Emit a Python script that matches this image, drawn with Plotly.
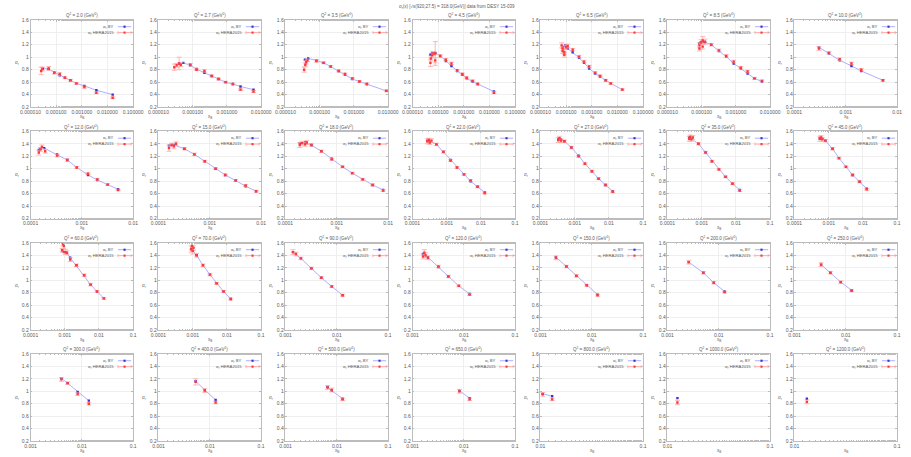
import plotly.graph_objects as go

# ---------------------------------------------------------------- data
Q2_VALUES = [2.0, 2.7, 3.5, 4.5, 6.5, 8.5, 10.0,
             12.0, 15.0, 18.0, 22.0, 27.0, 35.0, 45.0,
             60.0, 70.0, 90.0, 120.0, 150.0, 200.0, 250.0,
             300.0, 400.0, 500.0, 650.0, 800.0, 1000.0, 1200.0]

# log10 of the x-axis limits for every panel
X_LO = [-5, -5, -5, -5, -5, -5, -4,
        -4, -4, -4, -4, -4, -4, -4,
        -4, -4, -3, -3, -3, -3, -3,
        -3, -3, -3, -3, -2, -2, -2]
X_HI = [-1, -2, -2, -1, -1, -2, -2,
        -2, -2, -2, -1, -1, -1, -1,
        -1, -1, -1, -1, -1, -1, -1,
        -1, -1, -1, -1, -1, -1, -1]

Y_TICKS = [0.2, 0.4, 0.6, 0.8, 1.0, 1.2, 1.4, 1.6]
Y_TICK_TEXT = ["0.2", "0.4", "0.6", "0.8", "1", "1.2", "1.4", "1.6"]

# Q2 = 2.0
by_x_2p0 = [3.0e-5, 5.1e-5, 8.4e-5, 1.38e-4, 2.2e-4, 3.6e-4, 6.1e-4, 1.26e-3, 3.7e-3, 1.6e-2]
by_s_2p0 = [0.82, 0.81, 0.76, 0.71, 0.67, 0.63, 0.58, 0.54, 0.47, 0.40]
h_x_2p0 = [2.6e-5, 2.9e-5, 5.1e-5, 8.4e-5, 1.38e-4, 2.2e-4, 3.6e-4, 6.1e-4, 1.26e-3, 3.7e-3, 1.6e-2]
h_s_2p0 = [0.78, 0.81, 0.82, 0.75, 0.73, 0.67, 0.63, 0.58, 0.52, 0.43, 0.35]
h_e_2p0 = [0.06, 0.03, 0.03, 0.02, 0.02, 0.015, 0.015, 0.015, 0.015, 0.015, 0.015]

# Q2 = 2.7
by_x_2p7 = [4.0e-5, 5.3e-5, 8.5e-5, 1.3e-4, 2.2e-4, 3.6e-4, 5.7e-4, 9.2e-4, 1.5e-3, 2.5e-3, 6.0e-3]
by_s_2p7 = [0.90, 0.91, 0.87, 0.81, 0.75, 0.70, 0.65, 0.60, 0.57, 0.53, 0.48]
h_x_2p7 = [2.9e-5, 3.4e-5, 4.0e-5, 4.5e-5, 8.5e-5, 1.3e-4, 2.2e-4, 3.6e-4, 5.7e-4, 9.2e-4, 1.5e-3, 2.5e-3, 6.0e-3]
h_s_2p7 = [0.84, 0.87, 0.90, 0.88, 0.88, 0.80, 0.78, 0.70, 0.65, 0.60, 0.57, 0.48, 0.45]
h_e_2p7 = [0.05, 0.03, 0.10, 0.03, 0.02, 0.015, 0.02, 0.015, 0.015, 0.015, 0.015, 0.015, 0.015]

# Q2 = 3.5
by_x_3p5 = [3.7e-5, 4.6e-5, 8.0e-5, 1.3e-4, 2.1e-4, 3.6e-4, 5.5e-4, 9.0e-4, 1.45e-3, 2.4e-3, 8.9e-3]
by_s_3p5 = [0.96, 0.98, 0.95, 0.91, 0.85, 0.78, 0.72, 0.65, 0.61, 0.57, 0.46]
h_x_3p5 = [3.5e-5, 3.8e-5, 4.0e-5, 4.4e-5, 8.0e-5, 1.3e-4, 2.1e-4, 3.6e-4, 5.5e-4, 9.0e-4, 1.45e-3, 2.4e-3, 8.9e-3]
h_s_3p5 = [0.80, 0.88, 0.92, 0.95, 0.94, 0.91, 0.85, 0.78, 0.73, 0.66, 0.61, 0.57, 0.46]
h_e_3p5 = [0.04, 0.03, 0.03, 0.02, 0.02, 0.015, 0.015, 0.015, 0.015, 0.015, 0.015, 0.015, 0.015]

# Q2 = 4.5
by_x_4p5 = [5.0e-5, 5.8e-5, 7.7e-5, 1.2e-4, 2.0e-4, 3.3e-4, 5.5e-4, 8.8e-4, 1.3e-3, 2.2e-3, 3.5e-3, 1.5e-2]
by_s_4p5 = [1.04, 1.07, 1.07, 1.02, 0.94, 0.86, 0.78, 0.72, 0.66, 0.61, 0.57, 0.45]
h_x_4p5 = [5.0e-5, 5.2e-5, 5.8e-5, 6.7e-5, 7.7e-5, 7.7e-5, 1.2e-4, 2.0e-4, 3.3e-4, 5.5e-4, 8.8e-4, 1.3e-3, 2.2e-3, 3.5e-3, 1.5e-2]
h_s_4p5 = [0.91, 0.98, 1.03, 1.06, 1.06, 0.95, 1.02, 0.96, 0.90, 0.79, 0.73, 0.67, 0.62, 0.57, 0.43]
h_e_4p5 = [0.06, 0.04, 0.04, 0.03, 0.19, 0.04, 0.02, 0.02, 0.02, 0.015, 0.015, 0.015, 0.015, 0.015, 0.015]

# Q2 = 6.5
by_x_6p5 = [7.3e-5, 9.2e-5, 1.15e-4, 1.8e-4, 3.2e-4, 5.0e-4, 7.9e-4, 1.35e-3, 2.1e-3, 3.5e-3, 5.5e-3, 1.55e-2]
by_s_6p5 = [1.16, 1.19, 1.14, 1.08, 0.99, 0.91, 0.82, 0.74, 0.69, 0.63, 0.58, 0.48]
h_x_6p5 = [6.7e-5, 7.3e-5, 7.3e-5, 8.5e-5, 8.5e-5, 9.8e-5, 1.15e-4, 1.8e-4, 3.2e-4, 5.0e-4, 7.9e-4, 1.35e-3, 2.1e-3, 3.5e-3, 5.5e-3, 1.55e-2]
h_s_6p5 = [1.19, 1.14, 1.10, 1.08, 1.04, 1.16, 1.18, 1.12, 1.01, 0.93, 0.85, 0.75, 0.70, 0.63, 0.58, 0.48]
h_e_6p5 = [0.04, 0.04, 0.04, 0.04, 0.04, 0.03, 0.03, 0.02, 0.02, 0.02, 0.02, 0.015, 0.015, 0.015, 0.015, 0.015]

# Q2 = 8.5
by_x_8p5 = [8.6e-5, 9.5e-5, 1.07e-4, 1.25e-4, 1.9e-4, 3.2e-4, 5.2e-4, 8.6e-4, 1.4e-3, 2.2e-3, 3.5e-3, 5.8e-3]
by_s_8p5 = [1.22, 1.23, 1.25, 1.24, 1.20, 1.10, 1.01, 0.90, 0.82, 0.74, 0.66, 0.61]
h_x_8p5 = [8.6e-5, 8.6e-5, 9.5e-5, 1.07e-4, 1.07e-4, 1.25e-4, 1.9e-4, 3.2e-4, 5.2e-4, 8.6e-4, 1.4e-3, 2.2e-3, 3.5e-3, 5.8e-3]
h_s_8p5 = [1.14, 1.19, 1.24, 1.27, 1.17, 1.25, 1.20, 1.11, 1.02, 0.93, 0.83, 0.77, 0.66, 0.62]
h_e_8p5 = [0.04, 0.04, 0.04, 0.06, 0.04, 0.04, 0.02, 0.02, 0.02, 0.02, 0.02, 0.02, 0.015, 0.015]

# Q2 = 10
by_x_10 = [3.0e-4, 4.7e-4, 7.6e-4, 1.29e-3, 2.0e-3, 5.3e-3]
by_s_10 = [1.16, 1.06, 0.95, 0.86, 0.78, 0.63]
h_x_10 = [3.0e-4, 4.7e-4, 7.6e-4, 1.29e-3, 2.0e-3, 5.3e-3]
h_s_10 = [1.14, 1.07, 0.97, 0.90, 0.80, 0.63]
h_e_10 = [0.03, 0.02, 0.02, 0.02, 0.02, 0.015]

# Q2 = 12
by_x_12 = [1.45e-4, 1.56e-4, 1.85e-4, 3.3e-4, 5.2e-4, 8.0e-4, 1.32e-3, 2.0e-3, 3.2e-3, 5.1e-3]
by_s_12 = [1.30, 1.32, 1.33, 1.23, 1.14, 1.02, 0.90, 0.82, 0.745, 0.67]
h_x_12 = [1.45e-4, 1.56e-4, 1.67e-4, 1.93e-4, 3.3e-4, 5.2e-4, 8.0e-4, 1.32e-3, 2.0e-3, 3.2e-3, 5.1e-3]
h_s_12 = [1.26, 1.31, 1.35, 1.28, 1.21, 1.14, 1.02, 0.92, 0.83, 0.745, 0.66]
h_e_12 = [0.04, 0.03, 0.03, 0.03, 0.02, 0.02, 0.015, 0.015, 0.015, 0.015, 0.01]

# Q2 = 15
by_x_15 = [1.6e-4, 2.0e-4, 3.2e-4, 5.0e-4, 8.0e-4, 1.3e-3, 2.0e-3, 3.2e-3, 5.0e-3, 8.0e-3]
by_s_15 = [1.37, 1.38, 1.32, 1.23, 1.12, 1.00, 0.90, 0.81, 0.72, 0.64]
h_x_15 = [1.6e-4, 1.8e-4, 2.0e-4, 2.2e-4, 3.2e-4, 5.0e-4, 8.0e-4, 1.3e-3, 2.0e-3, 3.2e-3, 5.0e-3, 8.0e-3]
h_s_15 = [1.33, 1.38, 1.36, 1.40, 1.32, 1.23, 1.12, 1.00, 0.90, 0.81, 0.73, 0.64]
h_e_15 = [0.05, 0.03, 0.04, 0.03, 0.02, 0.02, 0.015, 0.015, 0.015, 0.015, 0.015, 0.015]

# Q2 = 18
by_x_18 = [1.9e-4, 2.4e-4, 3.2e-4, 5.0e-4, 8.0e-4, 1.3e-3, 2.0e-3, 3.2e-3, 5.0e-3, 8.0e-3]
by_s_18 = [1.41, 1.42, 1.38, 1.28, 1.16, 1.03, 0.93, 0.83, 0.74, 0.66]
h_x_18 = [1.9e-4, 2.1e-4, 2.4e-4, 2.6e-4, 3.2e-4, 5.0e-4, 8.0e-4, 1.3e-3, 2.0e-3, 3.2e-3, 5.0e-3, 8.0e-3]
h_s_18 = [1.38, 1.41, 1.39, 1.42, 1.38, 1.28, 1.15, 1.03, 0.93, 0.83, 0.74, 0.65]
h_e_18 = [0.04, 0.03, 0.03, 0.03, 0.02, 0.02, 0.015, 0.015, 0.015, 0.015, 0.015, 0.015]

# Q2 = 22
by_x_22 = [2.7e-4, 3.2e-4, 5.0e-4, 8.0e-4, 1.3e-3, 2.0e-3, 3.2e-3, 5.0e-3, 8.0e-3, 1.3e-2]
by_s_22 = [1.45, 1.44, 1.39, 1.27, 1.14, 1.02, 0.91, 0.80, 0.71, 0.62]
h_x_22 = [2.7e-4, 3.0e-4, 3.2e-4, 3.6e-4, 5.0e-4, 8.0e-4, 1.3e-3, 2.0e-3, 3.2e-3, 5.0e-3, 8.0e-3, 1.3e-2]
h_s_22 = [1.44, 1.46, 1.42, 1.45, 1.39, 1.27, 1.13, 1.02, 0.91, 0.81, 0.71, 0.61]
h_e_22 = [0.04, 0.03, 0.03, 0.03, 0.02, 0.02, 0.015, 0.015, 0.015, 0.015, 0.015, 0.015]

# Q2 = 27
by_x_27 = [3.3e-4, 4.0e-4, 5.0e-4, 8.0e-4, 1.3e-3, 2.0e-3, 3.2e-3, 5.0e-3, 8.0e-3, 1.3e-2]
by_s_27 = [1.47, 1.47, 1.44, 1.34, 1.21, 1.08, 0.96, 0.84, 0.74, 0.64]
h_x_27 = [3.3e-4, 3.6e-4, 4.0e-4, 5.0e-4, 8.0e-4, 1.3e-3, 2.0e-3, 3.2e-3, 5.0e-3, 8.0e-3, 1.3e-2]
h_s_27 = [1.46, 1.49, 1.45, 1.44, 1.34, 1.20, 1.08, 0.96, 0.84, 0.74, 0.63]
h_e_27 = [0.04, 0.03, 0.03, 0.02, 0.02, 0.015, 0.015, 0.015, 0.015, 0.015, 0.015]

# Q2 = 35
by_x_35 = [4.3e-4, 5.0e-4, 8.0e-4, 1.3e-3, 2.0e-3, 3.2e-3, 5.0e-3, 8.0e-3, 1.3e-2]
by_s_35 = [1.50, 1.48, 1.40, 1.26, 1.12, 0.99, 0.87, 0.76, 0.66]
h_x_35 = [4.3e-4, 4.6e-4, 5.0e-4, 5.5e-4, 8.0e-4, 1.3e-3, 2.0e-3, 3.2e-3, 5.0e-3, 8.0e-3, 1.3e-2]
h_s_35 = [1.48, 1.51, 1.47, 1.50, 1.40, 1.26, 1.12, 0.99, 0.87, 0.76, 0.65]
h_e_35 = [0.04, 0.03, 0.03, 0.03, 0.02, 0.02, 0.015, 0.015, 0.015, 0.015, 0.015]

# Q2 = 45
by_x_45 = [5.5e-4, 6.5e-4, 8.0e-4, 1.3e-3, 2.0e-3, 3.2e-3, 5.0e-3, 8.0e-3, 1.3e-2]
by_s_45 = [1.49, 1.48, 1.45, 1.32, 1.17, 1.03, 0.90, 0.79, 0.68]
h_x_45 = [5.5e-4, 6.0e-4, 6.5e-4, 8.0e-4, 1.3e-3, 2.0e-3, 3.2e-3, 5.0e-3, 8.0e-3, 1.3e-2]
h_s_45 = [1.48, 1.50, 1.47, 1.45, 1.32, 1.17, 1.03, 0.90, 0.79, 0.67]
h_e_45 = [0.04, 0.03, 0.03, 0.02, 0.02, 0.015, 0.015, 0.015, 0.015, 0.015]

# Q2 = 60
by_x_60 = [8.4e-4, 9.4e-4, 1.16e-3, 1.45e-3, 2.2e-3, 3.7e-3, 5.7e-3, 8.8e-3, 1.4e-2]
by_s_60 = [1.48, 1.45, 1.43, 1.36, 1.24, 1.08, 0.93, 0.82, 0.71]
h_x_60 = [8.4e-4, 8.9e-4, 9.4e-4, 1.05e-3, 1.16e-3, 1.45e-3, 2.2e-3, 3.7e-3, 5.7e-3, 8.8e-3, 1.4e-2]
h_s_60 = [1.48, 1.58, 1.55, 1.45, 1.44, 1.33, 1.24, 1.08, 0.93, 0.82, 0.71]
h_e_60 = [0.03, 0.03, 0.04, 0.04, 0.03, 0.03, 0.02, 0.02, 0.02, 0.015, 0.015]

# Q2 = 70
by_x_70 = [9.0e-4, 1.0e-3, 1.3e-3, 2.0e-3, 3.2e-3, 5.0e-3, 8.0e-3, 1.3e-2]
by_s_70 = [1.50, 1.48, 1.40, 1.24, 1.09, 0.95, 0.82, 0.70]
h_x_70 = [9.0e-4, 9.5e-4, 1.0e-3, 1.05e-3, 1.3e-3, 2.0e-3, 3.2e-3, 5.0e-3, 8.0e-3, 1.3e-2]
h_s_70 = [1.50, 1.55, 1.47, 1.52, 1.40, 1.24, 1.09, 0.95, 0.82, 0.70]
h_e_70 = [0.05, 0.07, 0.05, 0.04, 0.03, 0.02, 0.02, 0.015, 0.015, 0.015]

# Q2 = 90
by_x_90 = [1.4e-3, 2.0e-3, 3.2e-3, 5.0e-3, 8.0e-3, 1.3e-2]
by_s_90 = [1.45, 1.35, 1.19, 1.04, 0.90, 0.76]
h_x_90 = [1.4e-3, 1.6e-3, 2.0e-3, 3.2e-3, 5.0e-3, 8.0e-3, 1.3e-2]
h_s_90 = [1.45, 1.42, 1.35, 1.19, 1.04, 0.90, 0.76]
h_e_90 = [0.04, 0.03, 0.02, 0.02, 0.015, 0.015, 0.015]

# Q2 = 120
by_x_120 = [1.6e-3, 2.0e-3, 3.2e-3, 5.0e-3, 8.0e-3, 1.3e-2]
by_s_120 = [1.42, 1.37, 1.21, 1.06, 0.91, 0.78]
h_x_120 = [1.6e-3, 1.7e-3, 1.8e-3, 2.0e-3, 3.2e-3, 5.0e-3, 8.0e-3, 1.3e-2]
h_s_120 = [1.38, 1.44, 1.40, 1.36, 1.22, 1.06, 0.91, 0.77]
h_e_120 = [0.04, 0.05, 0.04, 0.03, 0.02, 0.02, 0.015, 0.015]

# Q2 = 150
by_x_150 = [2.0e-3, 3.2e-3, 5.0e-3, 8.0e-3, 1.3e-2]
by_s_150 = [1.37, 1.22, 1.07, 0.92, 0.77]
h_x_150 = [2.0e-3, 3.2e-3, 5.0e-3, 8.0e-3, 1.3e-2]
h_s_150 = [1.36, 1.22, 1.07, 0.92, 0.76]
h_e_150 = [0.03, 0.02, 0.02, 0.015, 0.015]

# Q2 = 200
by_x_200 = [2.6e-3, 5.0e-3, 8.0e-3, 1.3e-2]
by_s_200 = [1.29, 1.12, 0.96, 0.82]
h_x_200 = [2.6e-3, 5.0e-3, 8.0e-3, 1.3e-2]
h_s_200 = [1.29, 1.12, 0.96, 0.81]
h_e_200 = [0.03, 0.02, 0.02, 0.015]

# Q2 = 250
by_x_250 = [3.3e-3, 5.0e-3, 8.0e-3, 1.3e-2]
by_s_250 = [1.25, 1.12, 0.97, 0.84]
h_x_250 = [3.3e-3, 5.0e-3, 8.0e-3, 1.3e-2]
h_s_250 = [1.25, 1.12, 0.97, 0.83]
h_e_250 = [0.03, 0.02, 0.02, 0.015]

# Q2 = 300
by_x_300 = [4.0e-3, 5.3e-3, 8.3e-3, 1.37e-2]
by_s_300 = [1.21, 1.13, 0.99, 0.85]
h_x_300 = [4.0e-3, 5.3e-3, 8.3e-3, 1.37e-2]
h_s_300 = [1.19, 1.13, 0.955, 0.80]
h_e_300 = [0.03, 0.02, 0.02, 0.02]

# Q2 = 400
by_x_400 = [5.3e-3, 8.0e-3, 1.3e-2]
by_s_400 = [1.16, 1.02, 0.86]
h_x_400 = [5.3e-3, 8.0e-3, 1.3e-2]
h_s_400 = [1.15, 1.01, 0.82]
h_e_400 = [0.05, 0.03, 0.02]

# Q2 = 500
by_x_500 = [6.6e-3, 8.0e-3, 1.3e-2]
by_s_500 = [1.07, 1.01, 0.88]
h_x_500 = [6.6e-3, 8.0e-3, 1.3e-2]
h_s_500 = [1.06, 1.02, 0.87]
h_e_500 = [0.03, 0.03, 0.02]

# Q2 = 650
by_x_650 = [8.2e-3, 1.3e-2]
by_s_650 = [1.01, 0.89]
h_x_650 = [8.2e-3, 1.3e-2]
h_s_650 = [1.00, 0.87]
h_e_650 = [0.03, 0.02]

# Q2 = 800
by_x_800 = [1.05e-2, 1.3e-2]
by_s_800 = [0.96, 0.92]
h_x_800 = [1.05e-2, 1.3e-2]
h_s_800 = [0.95, 0.87]
h_e_800 = [0.03, 0.02]

# Q2 = 1000
by_x_1000 = [1.25e-2]
by_s_1000 = [0.89]
h_x_1000 = [1.25e-2]
h_s_1000 = [0.82]
h_e_1000 = [0.035]

# Q2 = 1200
by_x_1200 = [1.32e-2]
by_s_1200 = [0.88]
h_x_1200 = [1.32e-2]
h_s_1200 = [0.83]
h_e_1200 = [0.03]

PANELS = [
    (by_x_2p0, by_s_2p0, h_x_2p0, h_s_2p0, h_e_2p0),
    (by_x_2p7, by_s_2p7, h_x_2p7, h_s_2p7, h_e_2p7),
    (by_x_3p5, by_s_3p5, h_x_3p5, h_s_3p5, h_e_3p5),
    (by_x_4p5, by_s_4p5, h_x_4p5, h_s_4p5, h_e_4p5),
    (by_x_6p5, by_s_6p5, h_x_6p5, h_s_6p5, h_e_6p5),
    (by_x_8p5, by_s_8p5, h_x_8p5, h_s_8p5, h_e_8p5),
    (by_x_10, by_s_10, h_x_10, h_s_10, h_e_10),
    (by_x_12, by_s_12, h_x_12, h_s_12, h_e_12),
    (by_x_15, by_s_15, h_x_15, h_s_15, h_e_15),
    (by_x_18, by_s_18, h_x_18, h_s_18, h_e_18),
    (by_x_22, by_s_22, h_x_22, h_s_22, h_e_22),
    (by_x_27, by_s_27, h_x_27, h_s_27, h_e_27),
    (by_x_35, by_s_35, h_x_35, h_s_35, h_e_35),
    (by_x_45, by_s_45, h_x_45, h_s_45, h_e_45),
    (by_x_60, by_s_60, h_x_60, h_s_60, h_e_60),
    (by_x_70, by_s_70, h_x_70, h_s_70, h_e_70),
    (by_x_90, by_s_90, h_x_90, h_s_90, h_e_90),
    (by_x_120, by_s_120, h_x_120, h_s_120, h_e_120),
    (by_x_150, by_s_150, h_x_150, h_s_150, h_e_150),
    (by_x_200, by_s_200, h_x_200, h_s_200, h_e_200),
    (by_x_250, by_s_250, h_x_250, h_s_250, h_e_250),
    (by_x_300, by_s_300, h_x_300, h_s_300, h_e_300),
    (by_x_400, by_s_400, h_x_400, h_s_400, h_e_400),
    (by_x_500, by_s_500, h_x_500, h_s_500, h_e_500),
    (by_x_650, by_s_650, h_x_650, h_s_650, h_e_650),
    (by_x_800, by_s_800, h_x_800, h_s_800, h_e_800),
    (by_x_1000, by_s_1000, h_x_1000, h_s_1000, h_e_1000),
    (by_x_1200, by_s_1200, h_x_1200, h_s_1200, h_e_1200),
]

MAIN_TITLE = "σ<sub>r</sub>(x) [√s(920;27.5) = 318.0(GeV)] data from DESY 15-039"
BY_NAME = "σ<sub>r</sub> BY"
HERA_NAME = "σ<sub>r</sub> HERA2015"

# ---------------------------------------------------------------- layout
W, H = 911, 457
COL_LEFT = [21, 152, 282, 412, 543, 673, 803]
ROW_TOP = [17, 130, 243, 355.5]
PW, PH = 105, 88.5

FONT = "Liberation Sans"
TXT = "#5a5a5a"
BY_LINE = "#a6a6ff"
BY_MARK = "#3434d4"
HERA_MARK = "#ff3a3a"
HERA_BAR = "#ffa4a4"
FRAME = "#bcbcbc"
GRID = "#efefef"


def tick_text(v, wide):
    if wide:
        return f"{v:.6f}"
    return f"{v:g}"


fig = go.Figure()
annotations = []
shapes = []

for i, (bx, bs, hx, hs, he) in enumerate(PANELS):
    n = i + 1
    r, c = divmod(i, 7)
    left, top = COL_LEFT[c], ROW_TOP[r]
    xs = "" if n == 1 else str(n)
    xref, yref = "x" + xs, "y" + xs

    fig.add_trace(go.Scatter(
        x=bx, y=bs, mode="lines+markers", xaxis=xref, yaxis=yref,
        line=dict(color=BY_LINE, width=0.9),
        marker=dict(symbol="square", size=2.4, color=BY_MARK, line=dict(width=0)),
        showlegend=False, hoverinfo="skip"))
    fig.add_trace(go.Scatter(
        x=hx, y=hs, mode="markers", xaxis=xref, yaxis=yref,
        marker=dict(symbol="square", size=2.4, color=HERA_MARK, line=dict(width=0)),
        error_y=dict(type="data", array=he, visible=True, color=HERA_BAR,
                     thickness=0.8, width=2.5),
        showlegend=False, hoverinfo="skip"))

    lo, hi = X_LO[i], X_HI[i]
    decades = [10.0 ** k for k in range(lo, hi + 1)]
    wide = i < 6
    common = dict(showline=True, linecolor=FRAME, linewidth=0.6, mirror="ticks",
                  ticks="inside", ticklen=2, tickcolor=FRAME, tickwidth=0.5,
                  showgrid=True, gridcolor=GRID, gridwidth=0.5, zeroline=False,
                  tickfont=dict(family=FONT, size=5, color=TXT))
    fig.update_layout(**{
        "xaxis" + xs: dict(
            type="log", range=[lo, hi], anchor=yref,
            domain=[left / W, (left + PW) / W],
            tickvals=decades, ticktext=[tick_text(v, wide) for v in decades],
            minor=dict(ticks="inside", ticklen=1.2, tickcolor=FRAME, showgrid=False),
            **common),
        "yaxis" + xs: dict(
            range=[0.2, 1.6], anchor=xref,
            domain=[(H - top - PH) / H, (H - top) / H],
            tickvals=Y_TICKS, ticktext=Y_TICK_TEXT,
            **common),
    })

    dx, dy = xref + " domain", yref + " domain"
    # panel title
    annotations.append(dict(
        text=f"Q<sup>2</sup> = {Q2_VALUES[i]:.1f} (GeV<sup>2</sup>)",
        xref=dx, yref=dy, x=0.5, y=1, yshift=4.5, showarrow=False,
        xanchor="center", yanchor="middle",
        font=dict(family=FONT, size=4.5, color=TXT)))
    # axis titles
    annotations.append(dict(
        text="σ<sub>r</sub>", xref=dx, yref=dy, x=0, y=0.5, xshift=-14,
        showarrow=False, xanchor="center", yanchor="middle",
        font=dict(family=FONT, size=4.5, color=TXT)))
    annotations.append(dict(
        text="x<sub>B</sub>", xref=dx, yref=dy, x=0.5, y=0, yshift=-9.5,
        showarrow=False, xanchor="center", yanchor="middle",
        font=dict(family=FONT, size=4.5, color=TXT)))

    # key: label on the left, sample on the right
    for k, (label, y_px) in enumerate([(BY_NAME, 7.0), (HERA_NAME, 13.0)]):
        yd = 1 - y_px / PH
        annotations.append(dict(
            text=label, xref=dx, yref=dy, x=87.5 / PW, y=yd, showarrow=False,
            xanchor="right", yanchor="middle",
            font=dict(family=FONT, size=4.2, color=TXT)))
        col_line = BY_LINE if k == 0 else HERA_BAR
        col_mark = BY_MARK if k == 0 else HERA_MARK
        x0, x1, xm = 89.5 / PW, 103.0 / PW, 96.25 / PW
        shapes.append(dict(type="line", xref=dx, yref=dy, x0=x0, x1=x1, y0=yd, y1=yd,
                           line=dict(color=col_line, width=0.9)))
        if k == 1:
            cap = 1.6 / PH
            for xc in (x0, x1):
                shapes.append(dict(type="line", xref=dx, yref=dy, x0=xc, x1=xc,
                                   y0=yd - cap, y1=yd + cap,
                                   line=dict(color=col_line, width=0.8)))
        sq_w, sq_h = 1.1 / PW, 1.1 / PH
        shapes.append(dict(type="rect", xref=dx, yref=dy, x0=xm - sq_w, x1=xm + sq_w,
                           y0=yd - sq_h, y1=yd + sq_h, line=dict(width=0),
                           fillcolor=col_mark))

annotations.append(dict(
    text=MAIN_TITLE, xref="paper", yref="paper", x=458 / W, y=1 - 4.5 / H,
    showarrow=False, xanchor="center", yanchor="middle",
    font=dict(family=FONT, size=4.5, color=TXT)))

fig.update_layout(
    width=W, height=H, autosize=False,
    margin=dict(l=0, r=0, t=0, b=0),
    paper_bgcolor="white", plot_bgcolor="white",
    showlegend=False,
    annotations=annotations, shapes=shapes,
)

fig.write_html("out.html")
